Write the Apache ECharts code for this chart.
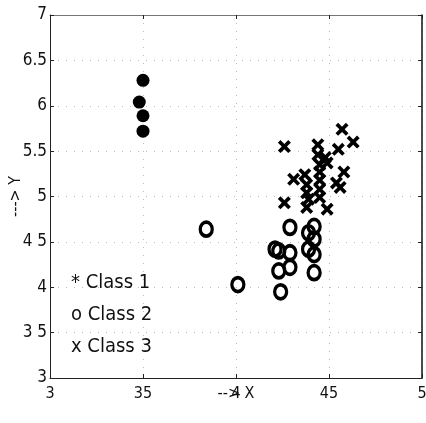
<!DOCTYPE html>
<html>
<head>
<meta charset="utf-8">
<script src="https://cdn.jsdelivr.net/npm/echarts@6/dist/echarts.min.js"></script>
<style>
  html, body { margin: 0; padding: 0; background: #fff; }
  #chart { width: 426px; height: 423px; }
</style>
</head>
<body>
<div id="chart"></div>
<script>
// tick values and the labels as printed on the scan
const xTicks = [3, 3.5, 4, 4.5, 5];
const xTickLabels = ['3', '35', '4', '45', '5'];
const yTicks = [3, 3.5, 4, 4.5, 5, 5.5, 6, 6.5, 7];
const yTickLabels = ['3', '3 5', '4', '4 5', '5', '5.5', '6', '6.5', '7'];

const classNames = ['Class 1', 'Class 2', 'Class 3'];
const classMarks = ['*', 'o', 'x'];

// [x, y]
const class1 = [[3.5, 6.28], [3.48, 6.04], [3.5, 5.89], [3.5, 5.72]];
const class2 = [
  [3.84, 4.64], [4.01, 4.03], [4.29, 4.66], [4.39, 4.60], [4.42, 4.67],
  [4.42, 4.53], [4.39, 4.42], [4.42, 4.36], [4.23, 4.40], [4.29, 4.38],
  [4.23, 4.18], [4.29, 4.22], [4.24, 3.95], [4.42, 4.16], [4.21, 4.42]
];
const class3 = [
  [4.57, 5.74], [4.63, 5.60], [4.26, 5.55], [4.44, 5.57], [4.55, 5.52],
  [4.44, 5.46], [4.48, 5.43], [4.49, 5.37], [4.45, 5.35], [4.31, 5.19],
  [4.37, 5.24], [4.38, 5.13], [4.38, 5.04], [4.39, 4.97], [4.45, 5.27],
  [4.45, 5.18], [4.45, 5.08], [4.45, 4.99], [4.58, 5.27], [4.54, 5.15],
  [4.56, 5.10], [4.26, 4.93], [4.49, 4.86], [4.38, 4.88]
];

const FONT = "'DejaVu Sans Condensed', 'Liberation Sans', Arial, sans-serif";
const crossPath = 'path://M0,2 L2,0 L5,3 L8,0 L10,2 L7,5 L10,8 L8,10 L5,7 L2,10 L0,8 L3,5 Z';

const chart = echarts.init(document.getElementById('chart'));

const baseAxis = {
  type: 'value',
  axisLine: { show: true, lineStyle: { color: '#222', width: 1 } },
  axisTick: { show: true, inside: true, length: 4, lineStyle: { color: '#222' } },
  splitLine: { show: false }
};

chart.setOption({
  animation: false,
  backgroundColor: '#fff',
  grid: { left: 50, right: 4, top: 15, bottom: 45, containLabel: false, outerBoundsMode: 'none' },
  legend: {
    orient: 'vertical',
    left: 61,
    top: 268,
    icon: 'none',
    itemWidth: 0,
    itemGap: 12,
    selectedMode: false,
    data: classNames,
    formatter: (name) => classMarks[classNames.indexOf(name)] + ' ' + name,
    textStyle: { color: '#111', fontSize: 20, fontFamily: FONT }
  },
  xAxis: [
    Object.assign({}, baseAxis, {
      position: 'bottom',
      min: 3, max: 5, interval: 0.5,
      name: '--> X',
      nameLocation: 'middle',
      nameGap: 8,
      nameMoveOverlap: false,
      nameTextStyle: { color: '#111', fontSize: 16, fontFamily: FONT, verticalAlign: 'top' },
      axisLabel: {
        color: '#111', fontSize: 16, fontFamily: FONT, margin: 8,
        formatter: (v) => xTickLabels[xTicks.indexOf(v)]
      },
      splitLine: { show: true, lineStyle: { color: '#bbb', type: [1, 7] } }
    }),
    Object.assign({}, baseAxis, {
      position: 'top',
      min: 3, max: 5, interval: 0.5,
      axisLabel: { show: false },
      axisLine: { show: true, lineStyle: { color: '#777', width: 1 } }
    })
  ],
  yAxis: [
    Object.assign({}, baseAxis, {
      position: 'left',
      min: 3, max: 7, interval: 0.5,
      name: '---> Y',
      nameLocation: 'middle',
      nameGap: 26,
      nameRotate: 90,
      nameMoveOverlap: false,
      nameTextStyle: { color: '#111', fontSize: 16, fontFamily: FONT },
      axisLabel: {
        color: '#111', fontSize: 17, fontFamily: FONT, margin: 3,
        formatter: (v) => yTickLabels[yTicks.indexOf(v)]
      },
      splitLine: { show: true, lineStyle: { color: '#bbb', type: [1, 7] } }
    }),
    Object.assign({}, baseAxis, {
      position: 'right',
      min: 3, max: 7, interval: 0.5,
      axisLabel: { show: false },
      axisLine: { show: true, lineStyle: { color: '#111', width: 1.5 } }
    })
  ],
  series: [
    {
      name: classNames[0],
      type: 'scatter',
      data: class1,
      symbol: 'circle',
      symbolSize: 13,
      itemStyle: { color: '#000', opacity: 1 }
    },
    {
      name: classNames[2],
      type: 'scatter',
      data: class3,
      symbol: crossPath,
      symbolSize: 13,
      itemStyle: { color: '#000', opacity: 1 }
    },
    {
      name: classNames[1],
      type: 'scatter',
      data: class2,
      symbol: 'circle',
      symbolSize: [12, 14],
      itemStyle: { color: 'rgba(255,255,255,0)', borderColor: '#000', borderWidth: 3.5, opacity: 1 }
    }
  ]
});
</script>
</body>
</html>
